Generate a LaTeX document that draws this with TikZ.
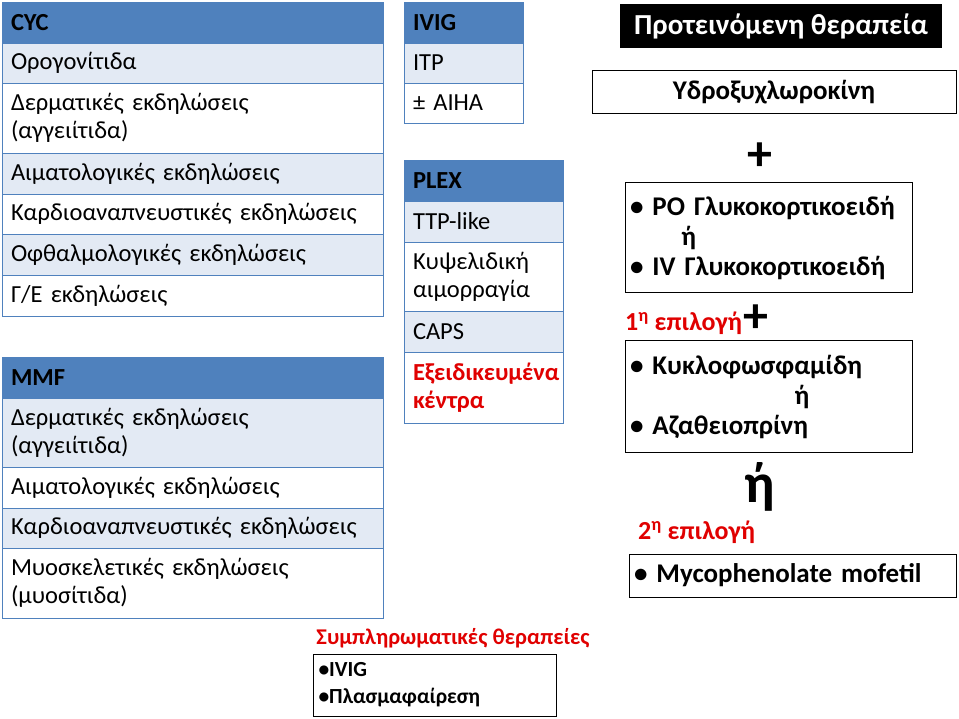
\documentclass[tikz,border=0pt]{standalone}
\usepackage{fontspec}
\setmainfont{Carlito}
\usepackage{tikz}
\usetikzlibrary{positioning}
\definecolor{tblue}{HTML}{4F81BD}
\definecolor{tlight}{HTML}{E3EAF4}
\definecolor{tred}{HTML}{E00000}

\begin{document}
\begin{tikzpicture}[
    x=1pt, y=1pt,
    node distance=0pt,
    cell/.style={rectangle, draw=tblue, line width=0.9pt, outer sep=0pt, inner xsep=9pt, inner ysep=2pt, align=left, font=\fontsize{24.5}{28}\selectfont},
    hdr/.style={cell, fill=tblue, font=\fontsize{24.5}{28}\selectfont\bfseries, minimum height=41},
    rowa/.style={cell, fill=tlight},
    rowb/.style={cell, fill=white},
    wbox/.style={rectangle, draw=black, line width=1pt, outer sep=0pt, align=left, font=\fontsize{27}{30}\selectfont\bfseries},
    redlbl/.style={text=tred, font=\fontsize{26}{28}\selectfont\bfseries, inner sep=0pt},
    bigsign/.style={font=\fontsize{50}{50}\selectfont\bfseries, inner sep=0pt}
]
\useasboundingbox (0,0) rectangle (959,-719);

% CYC table
\begin{scope}[every node/.append style={minimum width=381, text width=363}]
\node[hdr, anchor=north west] (cyc) at (2,-2) {CYC};
\node[rowa, minimum height=40, below=of cyc] (cyc1) {Ορογονίτιδα};
\node[rowb, minimum height=70, below=of cyc1] (cyc2) {Δερματικές εκδηλώσεις\\(αγγειίτιδα)};
\node[rowa, minimum height=41, below=of cyc2] (cyc3) {Αιματολογικές εκδηλώσεις};
\node[rowb, minimum height=40, below=of cyc3] (cyc4) {Καρδιοαναπνευστικές εκδηλώσεις};
\node[rowa, minimum height=41, below=of cyc4] (cyc5) {Οφθαλμολογικές εκδηλώσεις};
\node[rowb, minimum height=41, below=of cyc5] (cyc6) {Γ/Ε εκδηλώσεις};

% MMF table
\node[hdr, anchor=north west] (mmf) at (2,-357) {MMF};
\node[rowa, minimum height=69, below=of mmf] (mmf1) {Δερματικές εκδηλώσεις\\(αγγειίτιδα)};
\node[rowb, minimum height=41, below=of mmf1] (mmf2) {Αιματολογικές εκδηλώσεις};
\node[rowa, minimum height=40, below=of mmf2] (mmf3) {Καρδιοαναπνευστικές εκδηλώσεις};
\node[rowb, minimum height=70, below=of mmf3] (mmf4) {Μυοσκελετικές εκδηλώσεις\\(μυοσίτιδα)};
\end{scope}

% IVIG table
\begin{scope}[every node/.append style={minimum width=119, text width=101}]
\node[hdr, anchor=north west] (ivig) at (404,-2) {IVIG};
\node[rowa, minimum height=40, below=of ivig] (ivig1) {ITP};
\node[rowb, minimum height=40, below=of ivig1] (ivig2) {± AIHA};
\end{scope}

% PLEX table
\begin{scope}[every node/.append style={minimum width=159, text width=141}]
\node[hdr, anchor=north west] (plex) at (404,-160) {PLEX};
\node[rowa, minimum height=41, below=of plex] (plex1) {TTP-like};
\node[rowb, minimum height=69, below=of plex1] (plex2) {Κυψελιδική\\αιμορραγία};
\node[rowa, minimum height=41, below=of plex2] (plex3) {CAPS};
\node[rowb, minimum height=71, below=of plex3, text=tred, font=\fontsize{24.5}{28}\selectfont\bfseries] (plex4) {Εξειδικευμένα\\κέντρα};
\end{scope}

% Supplementary therapies
\node[redlbl, font=\fontsize{22.5}{26}\selectfont\bfseries] (supl) at (453,-638) {Συμπληρωματικές θεραπείες};
\node[wbox, anchor=north west, minimum width=243, minimum height=62, text width=232, inner xsep=5pt,
      font=\fontsize{21.5}{27}\selectfont\bfseries] (suplbox) at (313,-654) {•IVIG\\•Πλασμαφαίρεση};

% Proposed therapy
\node[fill=black, text=white, font=\fontsize{29}{32}\selectfont\bfseries, minimum width=322, minimum height=44, inner sep=0pt] (title) at (781,-26) {Προτεινόμενη θεραπεία};
\node[wbox, minimum width=364, minimum height=43, align=center] (hcq) at (774,-92) {Υδροξυχλωροκίνη};
\node[bigsign] (plus1) at (760,-157) {+};
\node[wbox, anchor=north west, minimum width=287, minimum height=110, text width=277, inner xsep=5pt] (gc) at (625,-183)
  {• PO Γλυκοκορτικοειδή\\\hspace{1.9em}ή\\• IV Γλυκοκορτικοειδή};
\node[redlbl, anchor=west] (opt1) at (625,-323) {1\textsuperscript{η} επιλογή};
\node[bigsign, right=1pt of opt1, yshift=4pt] (plus2) {+};
\node[wbox, anchor=north west, minimum width=287, minimum height=111, text width=277, inner xsep=5pt] (cyto) at (625,-341)
  {• Κυκλοφωσφαμίδη\\\hspace{6.1em}ή\\• Αζαθειοπρίνη};
\node[bigsign, font=\fontsize{56}{56}\selectfont\bfseries] (orsign) at (760,-487) {ή};
\node[redlbl, anchor=west] (opt2) at (638,-532) {2\textsuperscript{η} επιλογή};
\node[wbox, anchor=north west, minimum width=327, minimum height=43, text width=317, inner xsep=5pt] (mmfbox) at (629,-554) {• Mycophenolate mofetil};

\end{tikzpicture}
\end{document}
